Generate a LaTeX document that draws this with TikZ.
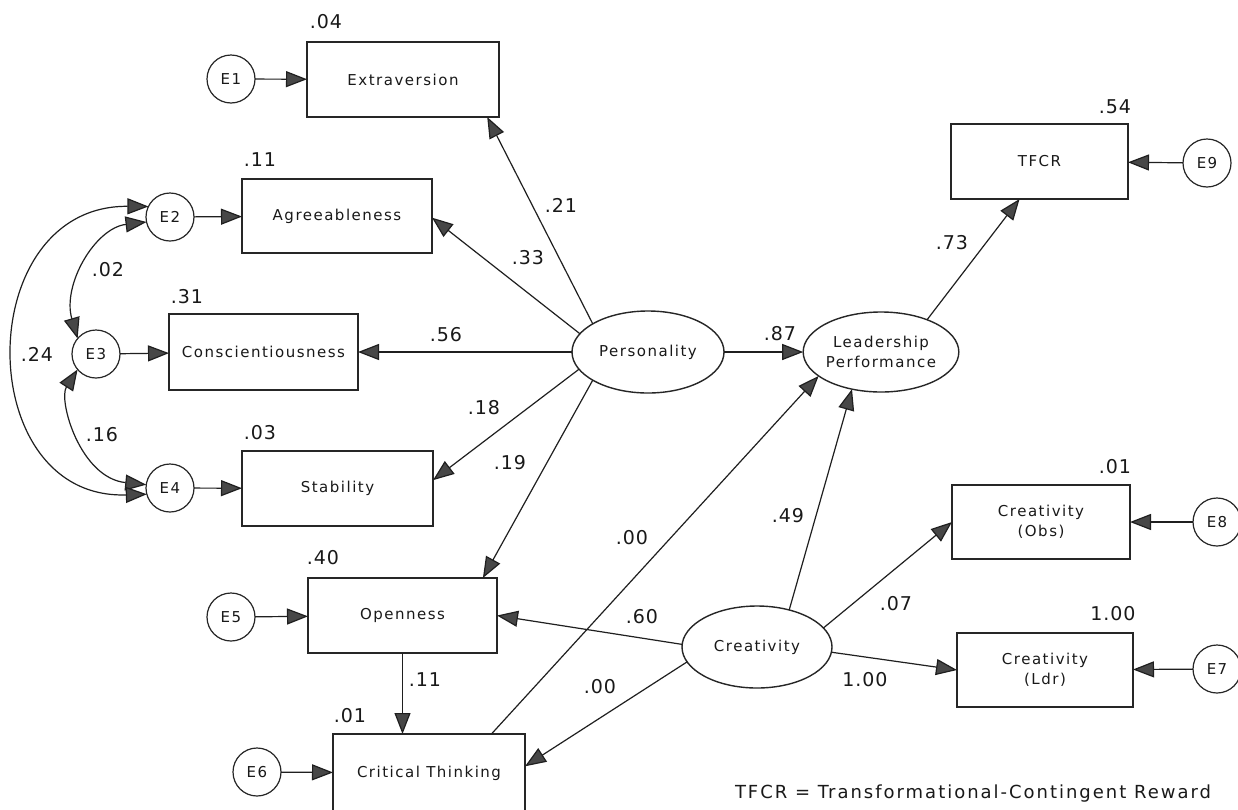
\documentclass[tikz,border=0pt]{standalone}
\usepackage{fontspec}
\setmainfont{DejaVu Sans}
\newfontfamily\lblfont[LetterSpace=10]{DejaVu Sans}
\newfontfamily\numfont[LetterSpace=5]{DejaVu Sans}
\newfontfamily\notefont[LetterSpace=11]{DejaVu Sans}
\usetikzlibrary{arrows.meta,shapes.geometric,calc}
\tikzset{
  every node/.style={outer sep=0pt, inner sep=0pt, text=black!90},
  box/.style={draw=black!85, line width=1.6pt, rectangle, align=center,
    font=\lblfont\fontsize{15}{20}\selectfont},
  lat/.style={draw=black!85, line width=1.4pt, ellipse, align=center,
    minimum width=152pt, minimum height=82pt,
    font=\lblfont\fontsize{15}{20}\selectfont},
  err/.style={draw=black!85, line width=1.2pt, circle, minimum size=48pt,
    font=\lblfont\fontsize{15}{20}\selectfont},
  coef/.style={font=\numfont\fontsize{19}{22}\selectfont},
  tip/.tip={Triangle[length=21pt,width=16pt,fill=black!72]},
  pathline/.style={draw=black!88, line width=1.2pt, -tip},
  covline/.style={draw=black!88, line width=1.2pt, tip-tip},
}
\begin{document}
\begin{tikzpicture}[x=1pt,y=-1pt]
\useasboundingbox (0,0) rectangle (1238,809);
\fill[white] (0,0) rectangle (1238,809);

% observed boxes
\node[box, minimum width=192pt, minimum height=75pt] (ext) at (403,79.5) {Extraversion};
\node[box, minimum width=190pt, minimum height=74pt] (agr) at (337,216) {Agreeableness};
\node[box, minimum width=189pt, minimum height=76pt] (con) at (263.5,352) {Conscientiousness};
\node[box, minimum width=191pt, minimum height=75pt] (sta) at (337.5,488.5) {Stability};
\node[box, minimum width=189pt, minimum height=75pt] (ope) at (402.5,615.5) {Openness};
\node[box, minimum width=192pt, minimum height=78pt] (crt) at (429,773) {Critical Thinking};
\node[box, minimum width=177pt, minimum height=75pt] (tfcr) at (1039.5,161.5) {TFCR};
\node[box, minimum width=178pt, minimum height=74pt] (cobs) at (1041,522) {Creativity\\(Obs)};
\node[box, minimum width=176pt, minimum height=74pt] (cldr) at (1045,670) {Creativity\\(Ldr)};

% latent ellipses
\node[lat] (pers) at (648,352) {Personality};
\node[lat, minimum height=80pt] (lead) at (881,352) {Leadership\\Performance};
\node[lat, minimum width=150pt] (crea) at (757,647) {Creativity};

% error circles
\node[err] (E1) at (231,79) {E1};
\node[err] (E2) at (170,217) {E2};
\node[err] (E3) at (96,354) {E3};
\node[err] (E4) at (170,488) {E4};
\node[err] (E5) at (231,617) {E5};
\node[err] (E6) at (257,772) {E6};
\node[err] (E7) at (1217,669) {E7};
\node[err] (E8) at (1217,522) {E8};
\node[err] (E9) at (1207,163) {E9};

% error paths
\draw[pathline] (E1) -- (ext);
\draw[pathline] (E2) -- (agr);
\draw[pathline] (E3) -- (con);
\draw[pathline] (E4) -- (sta);
\draw[pathline] (E5) -- (ope);
\draw[pathline] (E6) -- (crt);
\draw[pathline] (E9) -- (tfcr);
\draw[pathline] (E8) -- (cobs);
\draw[pathline] (E7) -- (cldr);

% structural paths
\draw[pathline] (pers.153) -- (ext.-24.6);
\draw[pathline] (pers.165) -- (agr.-1);
\draw[pathline] (pers.west) -- (con.east);
\draw[pathline] (pers.194) -- (sta.5);
\draw[pathline] (pers.207) -- (ope.25.3);
\draw[pathline] (pers.east) -- (lead.west);
\draw[pathline] (lead.35) -- (tfcr.242.5);
\draw[pathline] (crt.32.2) -- (lead.201.5);
\draw[pathline] (crea.49) -- (lead.232);
\draw[pathline] (crea.178) -- (ope.0);
\draw[pathline] (crea.192) -- (crt.4.8);
\draw[pathline] (crea.16) -- (cobs.west);
\draw[pathline] (crea.-4) -- (cldr.west);
\draw[pathline] (ope.south) -- (ope.south |- crt.north);

% covariances
\draw[covline] (E2.192) .. controls (95,228) and (62,285) .. (E3.140);
\draw[covline] (E3.220) .. controls (58,400) and (80,478) .. (E4.172);
\draw[covline] (E2.154) .. controls (-29,205) and (-29,500) .. (E4.195);

% coefficients
\node[coef] (c04) at (326,22) {.04};
\node[coef] (c11a) at (260,160) {.11};
\node[coef] (c02) at (108,270) {.02};
\node[coef] (c31) at (187,297) {.31};
\node[coef] (c24) at (37,354) {.24};
\node[coef] (c16) at (102,435) {.16};
\node[coef] (c03) at (260,433) {.03};
\node[coef] (c56) at (446,335) {.56};
\node[coef] (c18) at (484,408) {.18};
\node[coef] (c21) at (561,205) {.21};
\node[coef] (c33) at (528,258) {.33};
\node[coef] (c87) at (780,334) {.87};
\node[coef] (c54) at (1115,107) {.54};
\node[coef] (c73) at (952,243) {.73};
\node[coef] (c19) at (510,463) {.19};
\node[coef] (c00a) at (632,538) {.00};
\node[coef] (c49) at (788,516) {.49};
\node[coef] (c60) at (642,617) {.60};
\node[coef] (c07) at (896,604) {.07};
\node[coef] (c100a) at (865,680) {1.00};
\node[coef] (c00b) at (600,687) {.00};
\node[coef] (c40) at (323,558) {.40};
\node[coef] (c11b) at (425,680) {.11};
\node[coef] (c01a) at (350,716) {.01};
\node[coef] (c01b) at (1115,467) {.01};
\node[coef] (c100b) at (1113,614) {1.00};

% note
\node[font=\notefont\fontsize{18}{20}\selectfont] (note) at (973,794) {TFCR = Transformational-Contingent Reward};
\end{tikzpicture}
\end{document}
